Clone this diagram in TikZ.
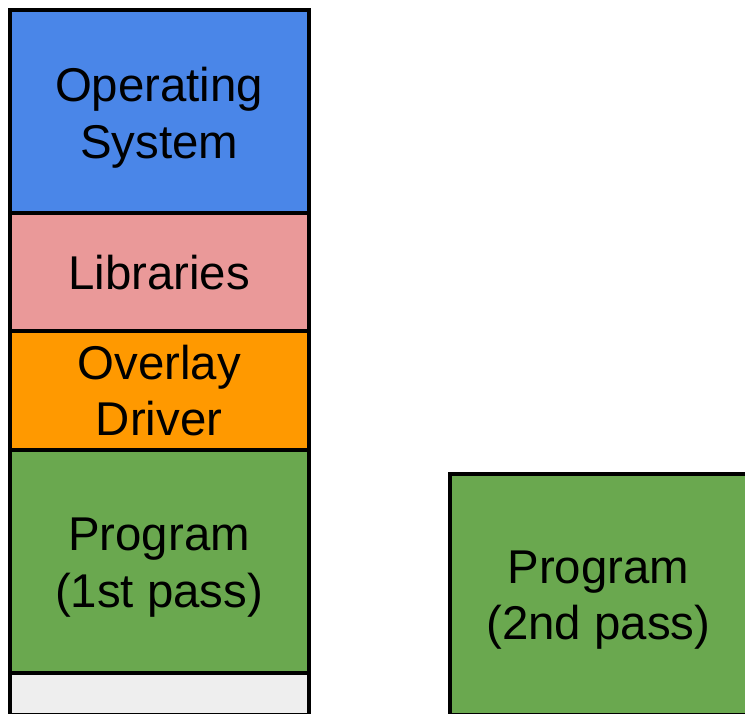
\documentclass[tikz,border=0pt]{standalone}
\usepackage{fontspec}
\setmainfont{Liberation Sans}
\begin{document}
\begin{tikzpicture}[x=1pt,y=-1pt,
  blk/.style={draw=black, line width=4pt, rectangle, inner sep=0pt, align=center,
    font=\fontsize{47.4}{56}\selectfont},
  txt/.style={label={[align=center, inner sep=0pt, yshift=-6pt,
    font=\fontsize{47.4}{56.5}\selectfont]center:#1}},
]
\useasboundingbox (0,0) rectangle (745,713);
\clip (0,0) rectangle (745,713);
\definecolor{osblue}{HTML}{4A86E8}
\definecolor{libpink}{HTML}{EA9999}
\definecolor{ovorange}{HTML}{FF9900}
\definecolor{prgreen}{HTML}{6AA84F}
\definecolor{freegray}{HTML}{EEEEEE}
\node[blk, fill=osblue, minimum width=299.2pt, minimum height=203pt, txt={Operating\\System}] (os) at (159.1,111.5) {};
\node[blk, fill=libpink, minimum width=299.2pt, minimum height=118.3pt] (lib) at (159.1,272.2) {Libraries};
\node[blk, fill=ovorange, minimum width=299.2pt, minimum height=118.7pt] (ov) at (159.1,390.6) {Overlay\\Driver};
\node[blk, fill=prgreen, minimum width=299.2pt, minimum height=223pt, txt={Program\\(1st pass)}] (p1) at (159.1,561.5) {};
\node[blk, fill=freegray, minimum width=299.2pt, minimum height=41.5pt] (free) at (159.1,693.75) {};
\node[blk, fill=prgreen, minimum width=297.3pt, minimum height=240.5pt, txt={Program\\(2nd pass)}] (p2) at (598.35,594.25) {};
\end{tikzpicture}
\end{document}
